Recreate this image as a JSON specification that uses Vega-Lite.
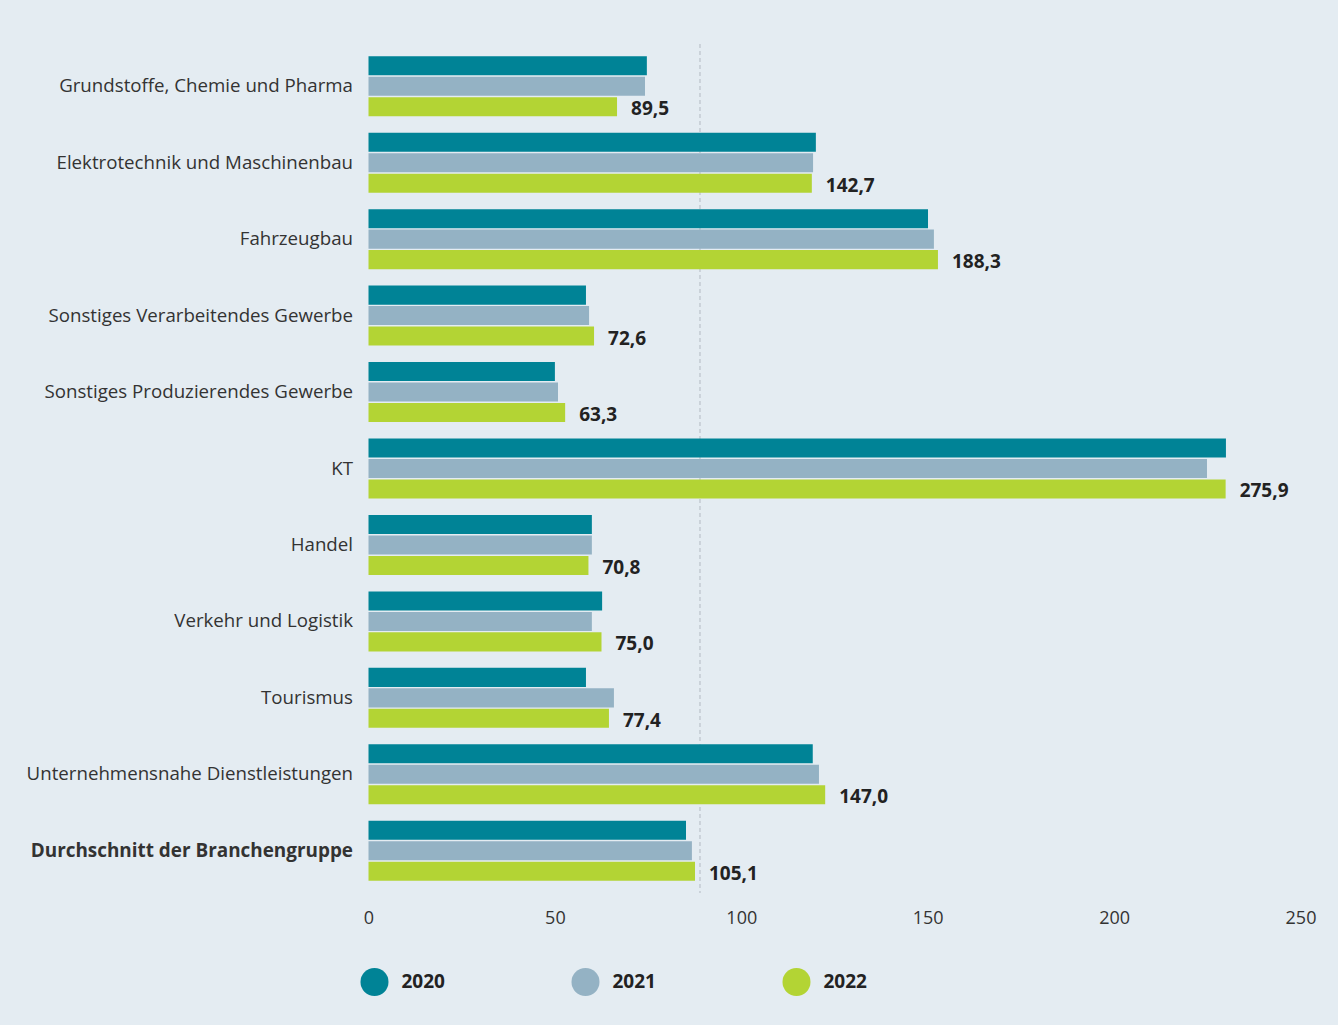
{
  "$schema": "https://vega.github.io/schema/vega-lite/v6.json",
  "width": 932,
  "height": 849,
  "autosize": {"type": "none"},
  "padding": {"left": 368.5, "top": 44, "right": 37.5, "bottom": 132},
  "background": "#e4ecf2",
  "config": {"view": {"stroke": null}, "font": "Open Sans"},
  "data": {
    "values": [
      {"cat": "Grundstoffe, Chemie und Pharma", "year": "2020", "value": 89.6},
      {"cat": "Grundstoffe, Chemie und Pharma", "year": "2021", "value": 89.0},
      {"cat": "Grundstoffe, Chemie und Pharma", "year": "2022", "value": 80.0, "label": "89,5"},
      {"cat": "Elektrotechnik und Maschinenbau", "year": "2020", "value": 144.0},
      {"cat": "Elektrotechnik und Maschinenbau", "year": "2021", "value": 143.1},
      {"cat": "Elektrotechnik und Maschinenbau", "year": "2022", "value": 142.7, "label": "142,7"},
      {"cat": "Fahrzeugbau", "year": "2020", "value": 180.1},
      {"cat": "Fahrzeugbau", "year": "2021", "value": 182.0},
      {"cat": "Fahrzeugbau", "year": "2022", "value": 183.3, "label": "188,3"},
      {"cat": "Sonstiges Verarbeitendes Gewerbe", "year": "2020", "value": 70.0},
      {"cat": "Sonstiges Verarbeitendes Gewerbe", "year": "2021", "value": 71.0},
      {"cat": "Sonstiges Verarbeitendes Gewerbe", "year": "2022", "value": 72.6, "label": "72,6"},
      {"cat": "Sonstiges Produzierendes Gewerbe", "year": "2020", "value": 60.0},
      {"cat": "Sonstiges Produzierendes Gewerbe", "year": "2021", "value": 61.0},
      {"cat": "Sonstiges Produzierendes Gewerbe", "year": "2022", "value": 63.3, "label": "63,3"},
      {"cat": "KT", "year": "2020", "value": 276.0},
      {"cat": "KT", "year": "2021", "value": 269.9},
      {"cat": "KT", "year": "2022", "value": 275.9, "label": "275,9"},
      {"cat": "Handel", "year": "2020", "value": 71.9},
      {"cat": "Handel", "year": "2021", "value": 71.9},
      {"cat": "Handel", "year": "2022", "value": 70.8, "label": "70,8"},
      {"cat": "Verkehr und Logistik", "year": "2020", "value": 75.2},
      {"cat": "Verkehr und Logistik", "year": "2021", "value": 71.9},
      {"cat": "Verkehr und Logistik", "year": "2022", "value": 75.0, "label": "75,0"},
      {"cat": "Tourismus", "year": "2020", "value": 70.0},
      {"cat": "Tourismus", "year": "2021", "value": 79.0},
      {"cat": "Tourismus", "year": "2022", "value": 77.4, "label": "77,4"},
      {"cat": "Unternehmensnahe Dienstleistungen", "year": "2020", "value": 143.0},
      {"cat": "Unternehmensnahe Dienstleistungen", "year": "2021", "value": 145.0},
      {"cat": "Unternehmensnahe Dienstleistungen", "year": "2022", "value": 147.0, "label": "147,0"},
      {"cat": "Durchschnitt der Branchengruppe", "year": "2020", "value": 102.2},
      {"cat": "Durchschnitt der Branchengruppe", "year": "2021", "value": 104.1},
      {"cat": "Durchschnitt der Branchengruppe", "year": "2022", "value": 105.1, "label": "105,1"}
    ]
  },
  "layer": [
    {
      "data": {"values": [{"avg": 106.7}]},
      "mark": {"type": "rule", "strokeDash": [4, 3], "color": "#c3cad2", "strokeWidth": 1.5},
      "encoding": {"x": {"field": "avg", "type": "quantitative"}}
    },
    {
      "mark": {"type": "bar"},
      "encoding": {
        "y": {
          "field": "cat", "type": "nominal", "sort": null,
          "scale": {"paddingInner": 0.215, "paddingOuter": 0.16, "round": false},
          "axis": {
            "title": null, "domain": false, "ticks": false,
            "labelColor": "#333333", "labelPadding": 16, "labelLimit": 400, "labelOffset": 0,
            "labelFontSize": {"condition": {"test": "datum.value === 'Durchschnitt der Branchengruppe'", "value": 18.9}, "value": 18.7},
            "labelFontWeight": {"condition": {"test": "datum.value === 'Durchschnitt der Branchengruppe'", "value": "bold"}, "value": "normal"}
          }
        },
        "yOffset": {"field": "year", "type": "nominal", "scale": {"paddingInner": 0.07, "paddingOuter": 0}},
        "x": {
          "field": "value", "type": "quantitative",
          "scale": {"domain": [0, 300], "nice": false, "zero": true},
          "axis": {
            "title": null, "domain": false, "ticks": false, "grid": false,
            "values": [0, 60, 120, 180, 240, 300],
            "labelExpr": "format(datum.value * 5 / 6, 'd')",
            "labelFlush": false, "labelFontSize": 18, "labelColor": "#333333", "labelPadding": 16
          }
        },
        "color": {
          "field": "year", "type": "nominal",
          "scale": {"domain": ["2020", "2021", "2022"], "range": ["#008396", "#94b2c4", "#b3d434"]},
          "legend": {
            "title": null, "orient": "none", "legendX": -8, "legendY": 924, "direction": "horizontal",
            "symbolType": "circle", "symbolSize": 784, "symbolStrokeWidth": 0, "symbolOpacity": 1,
            "labelFontSize": 19, "labelFontWeight": "bold", "labelColor": "#222222",
            "labelOffset": 13, "columnPadding": 126, "padding": 0
          }
        }
      }
    },
    {
      "transform": [{"filter": "datum.label != null"}],
      "mark": {"type": "text", "align": "left", "baseline": "middle", "dx": 14, "dy": 2.5, "fontSize": 19, "fontWeight": "bold", "color": "#222222"},
      "encoding": {
        "y": {"field": "cat", "type": "nominal", "sort": null},
        "yOffset": {"field": "year", "type": "nominal"},
        "x": {"field": "value", "type": "quantitative"},
        "text": {"field": "label"}
      }
    }
  ]
}
